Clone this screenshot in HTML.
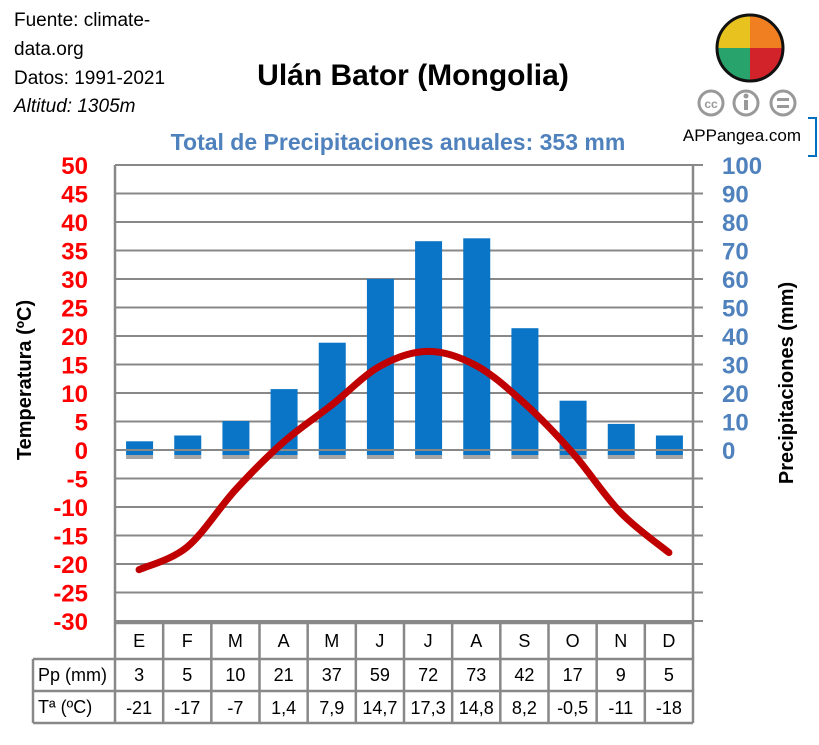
<!DOCTYPE html>
<html><head><meta charset="utf-8"><style>
body{margin:0;background:#fff;width:819px;height:745px;overflow:hidden}
svg{display:block;font-family:"Liberation Sans","DejaVu Sans",sans-serif}
</style></head><body>
<svg id="s" width="819" height="745" xmlns="http://www.w3.org/2000/svg">
<rect width="819" height="745" fill="#fff"/>
<text x="14" y="26" font-size="19">Fuente: climate-</text>
<text x="14" y="55" font-size="19">data.org</text>
<text x="14" y="84" font-size="19">Datos: 1991-2021</text>
<text x="14" y="112" font-size="19" font-style="italic">Altitud: 1305m</text>
<text x="413" y="85" font-size="30" font-weight="bold" text-anchor="middle">Ulán Bator (Mongolia)</text>
<text x="398" y="150" font-size="23" font-weight="bold" fill="#4f81bd" text-anchor="middle">Total de Precipitaciones anuales: 353 mm</text>
<g transform="translate(750,48)">
<path d="M0,0 L0,-33 A33,33 0 0 0 -33,0Z" fill="#e8c21e"/>
<path d="M0,0 L33,0 A33,33 0 0 0 0,-33Z" fill="#f07f22"/>
<path d="M0,0 L-33,0 A33,33 0 0 0 0,33Z" fill="#27a36b"/>
<path d="M0,0 L0,33 A33,33 0 0 0 33,0Z" fill="#d2232a"/>
<circle r="33" fill="none" stroke="#111" stroke-width="3"/>
</g>
<g fill="none" stroke="#999" stroke-width="3">
<circle cx="711" cy="103" r="12"/><circle cx="746" cy="103" r="12"/><circle cx="783" cy="103" r="12"/>
</g>
<text x="711" y="108" font-size="12" font-weight="bold" fill="#999" text-anchor="middle">cc</text>
<circle cx="746" cy="96" r="2.5" fill="#999"/><rect x="744" y="100" width="4" height="10" fill="#999"/>
<rect x="777" y="98" width="12" height="3" fill="#999"/><rect x="777" y="105" width="12" height="3" fill="#999"/>
<text x="742" y="141" font-size="17" text-anchor="middle">APPangea.com</text>
<path d="M808,118 H816 V156 H808" fill="none" stroke="#0070c0" stroke-width="2"/>
<text transform="translate(31,380) rotate(-90)" font-size="20" font-weight="bold" text-anchor="middle">Temperatura (ºC)</text>
<text transform="translate(793,383) rotate(-90)" font-size="20" font-weight="bold" text-anchor="middle">Precipitaciones (mm)</text>
<g id="g"></g>
</svg>
<script>
(function(){
var g=document.getElementById('g'),h='';
var L=115,R=693,W=(R-L)/12;
function Y(t){return 450-5.7*t}
for(var t=-30;t<=50;t+=5){var y=Y(t);h+='<line x1="'+L+'" x2="'+(R+10)+'" y1="'+y+'" y2="'+y+'" stroke="#888" stroke-width="2"/>';
h+='<text x="88" y="'+(y+9)+'" font-size="24" font-weight="bold" fill="#ff0000" text-anchor="end">'+t+'</text>';
if(t>=0)h+='<text x="722" y="'+(y+9)+'" font-size="24" font-weight="bold" fill="#4f81bd">'+(t*2)+'</text>';}
var pp=[3,5,10,21,37,59,72,73,42,17,9,5],tt=[-21,-17,-7,1.4,7.9,14.7,17.3,14.8,8.2,-0.5,-11,-18];
var ts=['-21','-17','-7','1,4','7,9','14,7','17,3','14,8','8,2','-0,5','-11','-18'],ms=['E','F','M','A','M','J','J','A','S','O','N','D'];
for(var i=0;i<12;i++){var c=L+W*(i+.5),tp=450-2.9*pp[i];
h+='<rect x="'+(c-13)+'" y="455" width="27" height="4" fill="#a6a6a6"/>';
h+='<rect x="'+(c-13)+'" y="'+tp+'" width="27" height="'+(455-tp)+'" fill="#0a74c6"/>';
h+='<line x1="'+(c-13)+'" x2="'+(c+14)+'" y1="450" y2="450" stroke="#888" stroke-width="2"/>';
h+='<text x="'+c+'" y="647" font-size="18" text-anchor="middle">'+ms[i]+'</text>';
h+='<text x="'+c+'" y="681" font-size="18" text-anchor="middle">'+pp[i]+'</text>';
h+='<text x="'+c+'" y="714" font-size="18" text-anchor="middle">'+ts[i]+'</text>';}
var P=tt.map(function(t,i){return[L+W*(i+.5),Y(t)]});
var d='M'+P[0][0]+','+P[0][1];
for(var i=0;i<11;i++){var p0=P[Math.max(i-1,0)],p1=P[i],p2=P[i+1],p3=P[Math.min(i+2,11)];
d+=' C'+(p1[0]+(p2[0]-p0[0])/6)+','+(p1[1]+(p2[1]-p0[1])/6)+' '+(p2[0]-(p3[0]-p1[0])/6)+','+(p2[1]-(p3[1]-p1[1])/6)+' '+p2[0]+','+p2[1];}
h+='<path d="'+d+'" fill="none" stroke="#c00000" stroke-width="7" stroke-linecap="round"/>';
var st='stroke="#888" stroke-width="2.5"';
h+='<line x1="'+L+'" x2="'+L+'" y1="165" y2="723" '+st+'/>';
h+='<line x1="'+R+'" x2="'+R+'" y1="165" y2="723" '+st+'/>';
h+='<line x1="33" x2="33" y1="659" y2="723" '+st+'/>';
for(var i=1;i<12;i++){var x=L+W*i;h+='<line x1="'+x+'" x2="'+x+'" y1="623" y2="723" '+st+'/>';}
h+='<line x1="'+L+'" x2="'+R+'" y1="623" y2="623" '+st+'/>';
[659,691,723].forEach(function(y){h+='<line x1="33" x2="'+R+'" y1="'+y+'" y2="'+y+'" '+st+'/>';});
h+='<text x="38" y="681" font-size="18">Pp (mm)</text><text x="38" y="713" font-size="18">Tª (ºC)</text>';
g.innerHTML=h;
})();
</script>
</body></html>
